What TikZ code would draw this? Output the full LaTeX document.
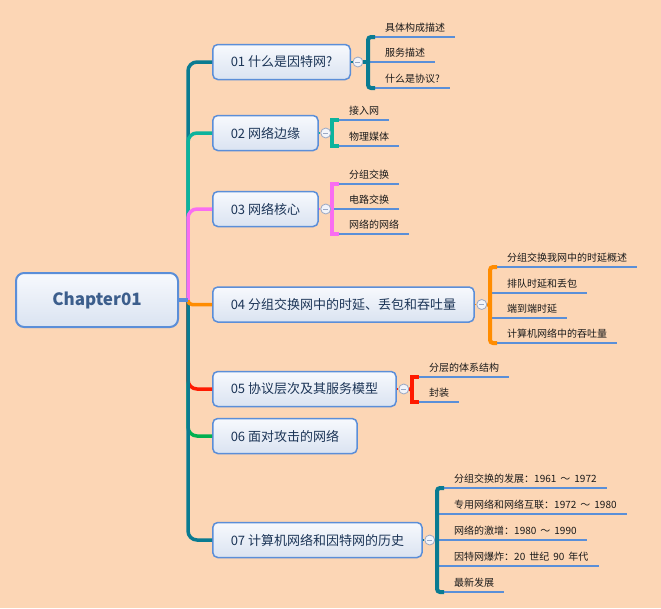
\documentclass[tikz,border=0pt]{standalone}
\usepackage{fontspec}
\setmainfont{Noto Sans CJK SC}
\usepackage{xcolor}
\usetikzlibrary{positioning,calc}
\definecolor{paper}{HTML}{FCD6B5}
\definecolor{boxline}{HTML}{5B8ED8}
\definecolor{boxtop}{HTML}{F7F9FD}
\definecolor{boxbot}{HTML}{DAE3F1}
\definecolor{rootink}{HTML}{3C5E8C}
\definecolor{topicink}{HTML}{1C3557}
\definecolor{ink}{HTML}{1A1A1A}
\definecolor{ulblue}{HTML}{5A8FD8}
\definecolor{foldline}{HTML}{9AA8C4}
\definecolor{foldfill}{HTML}{F2F4FA}
\definecolor{cdeep}{HTML}{0A7B91}
\definecolor{cmint}{HTML}{0CB39C}
\definecolor{cpink}{HTML}{F96DF1}
\definecolor{corange}{HTML}{FF8C00}
\definecolor{cred}{HTML}{FF1A00}
\definecolor{cgreen}{HTML}{00B050}
\newcommand{\tsp}{\hspace{4pt}}
\tikzset{
  rootbox/.style={draw=boxline,line width=2pt,rounded corners=8pt,
                  top color=boxtop,bottom color=boxbot,
                  minimum width=162pt,minimum height=54pt,
                  font=\fontsize{17}{20}\selectfont\bfseries,text=rootink},
  topicbox/.style={draw=boxline,line width=1.5pt,rounded corners=5pt,
                   top color=boxtop,bottom color=boxbot,anchor=west,
                   minimum height=35pt,inner xsep=18pt,
                   font=\fontsize{13}{15}\selectfont,text=topicink},
  subtopic/.style={anchor=south west,inner xsep=10pt,inner ysep=3pt,
                   text height=8pt,text depth=2pt,
                   font=\fontsize{10}{12}\selectfont,text=ink},
  branch/.style={line width=3.5pt,rounded corners=9pt},
  brk/.style={line width=4pt,rounded corners=3pt},
  uline/.style={line width=2.5pt,draw=ulblue},
  stub/.style={line width=1.2pt},
  foldmark/.style={circle,draw=foldline,fill=foldfill,line width=0.8pt,
                   minimum size=10pt,inner sep=0pt,
                   path picture={\draw[foldline,line width=1pt]
                     ([xshift=-2.5pt]path picture bounding box.center) --
                     ([xshift=2.5pt]path picture bounding box.center);}}
}
\begin{document}
\begin{tikzpicture}[x=1pt,y=-1pt]
  \fill[paper] (0,0) rectangle (661,608);
  \useasboundingbox (0,0) rectangle (661,608);

  % root and main topics
  \node[rootbox] (root) at (97,300) {Chapter01};
  \coordinate (hub) at (188,300);
  \node[topicbox] (b1) at (212,62) {01 什么是因特网?};
  \node[topicbox] (b2) at (212,133) {02 网络边缘};
  \node[topicbox] (b3) at (212,209) {03 网络核心};
  \node[topicbox] (b4) at (212,304.5) {04 分组交换网中的时延、丢包和吞吐量};
  \node[topicbox] (b5) at (212,389) {05 协议层次及其服务模型};
  \node[topicbox] (b6) at (212,436) {06 面对攻击的网络};
  \node[topicbox] (b7) at (212,540) {07 计算机网络和因特网的历史};

  % branches from the hub
  \draw[branch,cdeep] (hub) |- (b1.west);
  \draw[branch,cmint] (hub) |- (b2.west);
  \draw[branch,cpink] (hub) |- (b3.west);
  \draw[branch,cgreen] (hub) |- (b6.west);
  \draw[branch,cred] (hub) |- (b5.west);
  \draw[branch,cdeep] (hub) |- (b7.west);
  \draw[branch,corange,rounded corners=4pt] (hub) |- (b4.west);
  \draw[line width=4pt,boxline] (root.east) -- (hub);

  % subtopics
  \coordinate (k1) at (368,62);
  \node[subtopic] (a11) at (375,37) {具体构成描述};
  \node[subtopic] (a12) at (375,62) {服务描述};
  \node[subtopic] (a13) at (375,88) {什么是协议?};

  \coordinate (k2) at (332,133);
  \node[subtopic] (a21) at (339,120) {接入网};
  \node[subtopic] (a22) at (339,146) {物理媒体};

  \coordinate (k3) at (332,209);
  \node[subtopic] (a31) at (339,184) {分组交换};
  \node[subtopic] (a32) at (339,209) {电路交换};
  \node[subtopic] (a33) at (339,234) {网络的网络};

  \coordinate (k4) at (490,305);
  \node[subtopic] (a41) at (497,267) {分组交换我网中的时延概述};
  \node[subtopic] (a42) at (497,293) {排队时延和丢包};
  \node[subtopic] (a43) at (497,318) {端到端时延};
  \node[subtopic] (a44) at (497,343) {计算机网络中的吞吐量};

  \coordinate (k5) at (412,389.5);
  \node[subtopic] (a51) at (419,377) {分层的体系结构};
  \node[subtopic] (a52) at (419,402) {封装};

  \coordinate (k7) at (437,540);
  \node[subtopic] (a71) at (444,488) {分组交换的发展：1961\tsp{}～\tsp{}1972};
  \node[subtopic] (a72) at (444,514) {专用网络和网络互联：1972\tsp{}～\tsp{}1980};
  \node[subtopic] (a73) at (444,540) {网络的激增：1980\tsp{}～\tsp{}1990};
  \node[subtopic] (a74) at (444,566) {因特网爆炸：20\tsp{}世纪\tsp{}90\tsp{}年代};
  \node[subtopic] (a75) at (444,592) {最新发展};

  \foreach \n/\k in {a11/k1,a12/k1,a13/k1,a21/k2,a22/k2,a31/k3,a32/k3,a33/k3,
                     a41/k4,a42/k4,a43/k4,a44/k4,a51/k5,a52/k5,
                     a71/k7,a72/k7,a73/k7,a74/k7,a75/k7}
    \draw[uline] (\n.south west -| \k) -- (\n.south east);

  % brackets
  \draw[brk,cdeep] (a11.south west) -| (k1) |- (a13.south west);
  \draw[brk,cmint,rounded corners=0pt] (a21.south west) -| (k2) |- (a22.south west);
  \draw[brk,cpink,rounded corners=0pt] (a31.south west) -| (k3) |- (a33.south west);
  \draw[brk,corange] (a41.south west) -| (k4) |- (a44.south west);
  \draw[brk,cred,rounded corners=0pt] (a51.south west) -| (k5) |- (a52.south west);
  \draw[brk,cdeep] (a71.south west) -| (k7) |- (a75.south west);

  % fold marks
  \foreach \i in {1,2,3,4,5,7}
    \node[foldmark,right=1.5pt of b\i] (f\i) {};
  \draw[stub,cdeep] (b1.east) -- (f1.west);
  \draw[brk,cdeep] (f1.east) -- (k1);
  \draw[stub,cmint] (b2.east) -- (f2.west);
  \draw[brk,cmint] (f2.east) -- (k2);
  \draw[stub,cpink] (b3.east) -- (f3.west);
  \draw[brk,cpink] (f3.east) -- (k3);
  \draw[stub,corange] (b4.east) -- (f4.west);
  \draw[brk,corange] (f4.east) -- (k4);
  \draw[stub,cred] (b5.east) -- (f5.west);
  \draw[brk,cred] (f5.east) -- (k5);
  \draw[stub,cdeep] (b7.east) -- (f7.west);
  \draw[brk,cdeep] (f7.east) -- (k7);
\end{tikzpicture}
\end{document}
